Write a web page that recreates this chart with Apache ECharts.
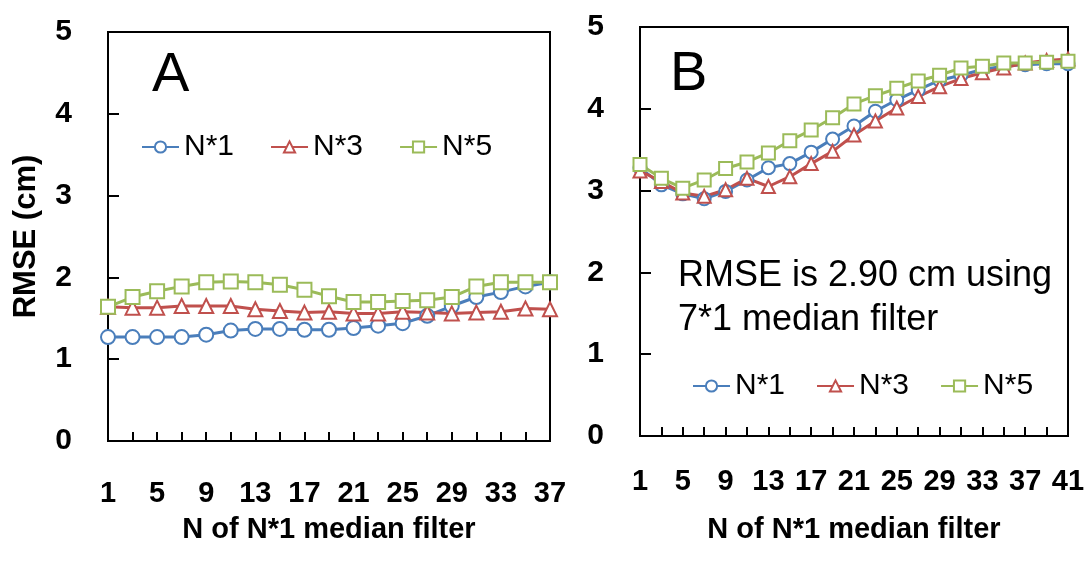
<!DOCTYPE html>
<html>
<head>
<meta charset="utf-8">
<script src="https://cdn.jsdelivr.net/npm/echarts@6/dist/echarts.min.js"></script>
<style>
html,body{margin:0;padding:0;background:#fff;}
#c{width:1091px;height:561px;}
</style>
</head>
<body>
<div id="c"></div>
<script>
const catsA = ['1','3','5','7','9','11','13','15','17','19','21','23','25','27','29','31','33','35','37'];
const catsB = ['1','3','5','7','9','11','13','15','17','19','21','23','25','27','29','31','33','35','37','39','41'];
const seriesNames = ['N*1','N*3','N*5'];
const aN1 = [1.27,1.27,1.27,1.27,1.30,1.35,1.37,1.37,1.36,1.36,1.38,1.41,1.44,1.53,1.65,1.76,1.82,1.89,1.94];
const aN3 = [1.64,1.63,1.63,1.65,1.65,1.65,1.61,1.59,1.57,1.58,1.56,1.56,1.58,1.57,1.56,1.57,1.58,1.62,1.61];
const aN5 = [1.64,1.76,1.83,1.89,1.94,1.95,1.94,1.91,1.85,1.77,1.70,1.70,1.71,1.72,1.76,1.89,1.94,1.94,1.94];
const bN1 = [3.28,3.07,2.96,2.90,2.99,3.13,3.28,3.33,3.47,3.63,3.79,3.97,4.11,4.23,4.35,4.41,4.48,4.52,4.54,4.55,4.55];
const bN3 = [3.24,3.11,2.97,2.93,3.01,3.15,3.05,3.17,3.33,3.48,3.68,3.85,4.01,4.15,4.27,4.37,4.44,4.50,4.56,4.59,4.61];
const bN5 = [3.32,3.15,3.03,3.13,3.27,3.35,3.46,3.61,3.74,3.89,4.06,4.16,4.25,4.34,4.41,4.50,4.52,4.56,4.56,4.57,4.58];
const yTicks = [0,1,2,3,4,5];
const xTitle = 'N of N*1 median filter';
const yTitle = 'RMSE (cm)';
const note = 'RMSE is 2.90 cm using\n7*1 median filter';

const colors = ['#4A7EBB','#C0504D','#9BBB59'];
const symbols = ['emptyCircle','emptyTriangle','emptyRect'];
const FONT = 'Liberation Sans, Arial, sans-serif';

function mkX(idx, cats, labelMargin, nameGap){
  return {
    type:'category', gridIndex: idx, data: cats, boundaryGap:false,
    axisLine:{show:true, lineStyle:{color:'#000', width:2}},
    axisTick:{show:true, inside:true, length:9, interval:0, lineStyle:{color:'#000', width:2}},
    axisLabel:{interval:1, margin:labelMargin, color:'#000', fontSize:29, fontWeight:'bold', fontFamily:FONT},
    splitLine:{show:false},
    name: xTitle, nameLocation:'middle', nameGap: nameGap,
    nameTextStyle:{color:'#000', fontSize:29, fontWeight:'bold', fontFamily:FONT}
  };
}
function mkY(idx, withName){
  const o = {
    type:'value', gridIndex: idx, min: yTicks[0], max: yTicks[yTicks.length-1], interval:1,
    axisLine:{show:true, lineStyle:{color:'#000', width:2}},
    axisTick:{show:true, inside:true, length:11, lineStyle:{color:'#000', width:2}},
    axisLabel:{margin:36, color:'#000', fontSize:30, fontWeight:'bold', fontFamily:FONT},
    splitLine:{show:false}
  };
  if (withName){
    o.name = yTitle; o.nameLocation='middle'; o.nameGap=66;
    o.nameTextStyle = {color:'#000', fontSize:31, fontWeight:'bold', fontFamily:FONT};
  }
  return o;
}
function mkSeries(data, i, gi, size){
  return {
    type:'line', name: seriesNames[i], xAxisIndex: gi, yAxisIndex: gi, data: data,
    symbol: symbols[i], symbolSize: size, showAllSymbol:true,
    lineStyle:{color: colors[i], width:3},
    itemStyle:{color: colors[i], borderWidth:1.6},
    animation:false
  };
}

const chart = echarts.init(document.getElementById('c'));
chart.setOption({
  backgroundColor:'#fff',
  animation:false,
  grid:[
    {left:108, right:541, top:32, bottom:120, show:true, borderColor:'#000', borderWidth:2, backgroundColor:'transparent'},
    {left:640, right:23, top:27, bottom:125, show:true, borderColor:'#000', borderWidth:2, backgroundColor:'transparent'}
  ],
  xAxis:[ mkX(0, catsA, 38, 74), mkX(1, catsB, 31, 79) ],
  yAxis:[ mkY(0, true), mkY(1, false) ],
  legend:[
    {data: seriesNames, left:136, top:127, itemWidth:37, itemHeight:14, itemGap:36,
     textStyle:{color:'#000', fontSize:30, fontFamily:FONT}},
    {data: seriesNames, left:687, top:366, itemWidth:37, itemHeight:14, itemGap:31,
     textStyle:{color:'#000', fontSize:30, fontFamily:FONT}}
  ],
  graphic:[
    {type:'text', left:152, top:48, style:{text:'A', fill:'#000', font:'56px ' + FONT}},
    {type:'text', left:670, top:47, style:{text:'B', fill:'#000', font:'56px ' + FONT}},
    {type:'text', left:678, top:254, style:{text:note, fill:'#000', font:'36px ' + FONT, lineHeight:44}}
  ],
  series:[
    mkSeries(aN1,0,0,14), mkSeries(aN3,1,0,14), mkSeries(aN5,2,0,14),
    mkSeries(bN1,0,1,13), mkSeries(bN3,1,1,13), mkSeries(bN5,2,1,13)
  ]
});
</script>
</body>
</html>
